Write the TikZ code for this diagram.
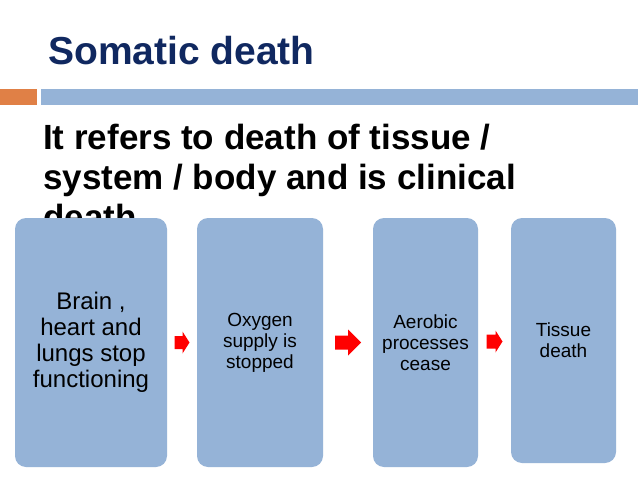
\documentclass[tikz,border=0pt]{standalone}
\usepackage{fontspec}
\setmainfont{Liberation Sans}
\usetikzlibrary{calc}
\definecolor{titlenavy}{RGB}{16,40,96}
\definecolor{barorange}{RGB}{224,128,70}
\definecolor{stepblue}{RGB}{149,179,215}
\tikzstyle{stepbox}=[fill=stepblue,rounded corners=11pt,inner sep=2pt,align=center]
\tikzstyle{bigtext}=[font=\fontsize{24}{26}\selectfont]
\tikzstyle{smalltext}=[font=\fontsize{19}{21}\selectfont]
\newcommand{\blockarrow}[5]{% Syntax: {center}{length}{head width}{shaft width}{head length}
\fill[red] ($(#1)+(-#2/2,-#4/2)$) -- ++(#2-#5,0) -- ($(#1)+(#2/2-#5,-#3/2)$) -- ($(#1)+(#2/2,0)$)
	-- ($(#1)+(#2/2-#5,#3/2)$) -- ($(#1)+(#2/2-#5,#4/2)$) -- ($(#1)+(-#2/2,#4/2)$) -- cycle;
}
\begin{document}
\begin{tikzpicture}[x=1pt,y=-1pt]
	\useasboundingbox[fill=white] (0,0) rectangle (638,479);
	% title and bar
	\node[anchor=base west,inner sep=0,text=titlenavy,font=\fontsize{39}{40}\selectfont\bfseries] (title) at (48,64) {Somatic death};
	\fill[barorange] (0,89) rectangle (37,105);
	\fill[stepblue] (41,89) rectangle (638,105);
	% base of this node is the last line
	\node[anchor=base west,inner sep=0,align=left,font=\fontsize{35}{40}\selectfont\bfseries] (intro) at (43,229)
		{It refers to death of tissue /\\ system / body and is clinical\\ death};
	% the four steps
	\node[stepbox,bigtext,minimum width=152pt,minimum height=249pt] (b1) at (91,342.5) {Brain ,\\ heart and\\ lungs stop\\ functioning};
	\node[stepbox,smalltext,minimum width=126pt,minimum height=249pt] (b2) at (260,342.5) {Oxygen\\ supply is\\ stopped};
	\node[stepbox,smalltext,minimum width=105pt,minimum height=249pt] (b3) at (425.5,342.5) {Aerobic\\ processes\\ cease};
	\node[stepbox,smalltext,minimum width=105pt,minimum height=245pt] (b4) at (563.5,340.5) {Tissue\\ death};
	\path (b1.east) -- (b2.west) coordinate[midway] (a1);
	\path (b2.east) -- (b3.west) coordinate[midway] (a2);
	\path (b3.east) -- (b4.west) coordinate[midway] (a3);
	\blockarrow{a1}{15}{22}{13}{7}
	\blockarrow{a2}{26}{26}{14}{13}
	\blockarrow{a3}{16}{22}{14}{7}
\end{tikzpicture}
\end{document}
